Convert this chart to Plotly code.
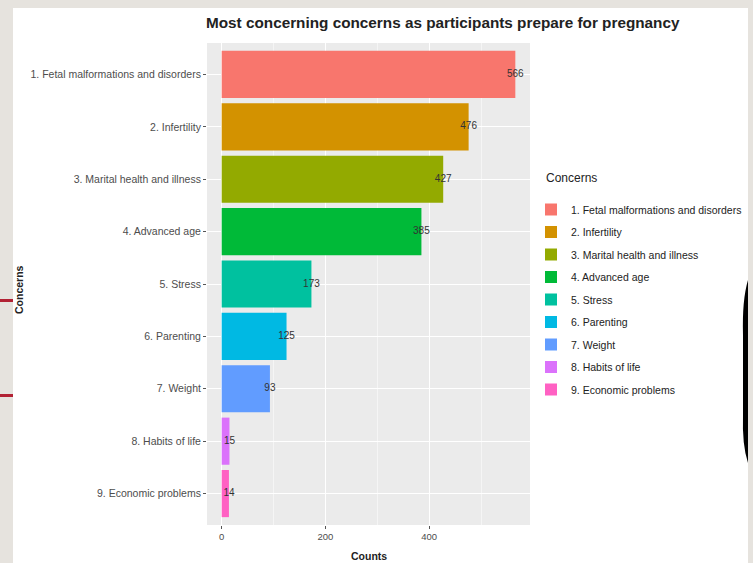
import plotly.graph_objects as go

categories = [
    "1. Fetal malformations and disorders",
    "2. Infertility",
    "3. Marital health and illness",
    "4. Advanced age",
    "5. Stress",
    "6. Parenting",
    "7. Weight",
    "8. Habits of life",
    "9. Economic problems",
]
counts = [566, 476, 427, 385, 173, 125, 93, 15, 14]
colors = ["#F8766D", "#D39200", "#93AA00", "#00BA38", "#00C19F",
          "#00B9E3", "#619CFF", "#DB72FB", "#FF61C3"]
x_ticks = [0, 200, 400]

W, H = 753, 563
L, R, T, B = 207, 530, 43, 525


def px(x):
    return (x - L) / (R - L)


def py(y):
    return (B - y) / (B - T)


fig = go.Figure()
for i, (c, v, col) in enumerate(zip(categories, counts, colors)):
    fig.add_trace(go.Bar(
        x=[v], y=[c], orientation="h", name=c, marker_color=col,
        marker_line_width=0, width=0.9, legendgroup=str(i),
        hoverinfo="x+y",
    ))
fig.add_trace(go.Scatter(
    x=counts, y=categories, mode="text", text=[str(v) for v in counts],
    textposition="middle center", showlegend=False,
    textfont=dict(size=10, color="#333333", family="Liberation Sans"),
))

tf = dict(family="Liberation Sans", size=10.5, color="#4D4D4D")
fig.update_layout(
    width=W, height=H, autosize=False,
    margin=dict(l=L, r=W - R, t=T, b=H - B, autoexpand=False),
    paper_bgcolor="white", plot_bgcolor="#EBEBEB",
    barmode="overlay",
    title=dict(text="<b>Most concerning concerns as participants prepare for pregnancy</b>",
               x=206 / W, xanchor="left", xref="container",
               y=1 - 23 / H, yanchor="middle", yref="container",
               font=dict(family="Liberation Sans", size=15.3, color="#222222")),
    xaxis=dict(range=[-28.3, 594.3], tickvals=x_ticks, ticktext=[str(t) for t in x_ticks],
               showgrid=True, gridcolor="white", gridwidth=1.1, zeroline=False,
               minor=dict(tickvals=[100, 300, 500], showgrid=True, gridcolor="#F5F5F5", gridwidth=0.6),
               ticks="outside", ticklen=3, tickcolor="#555555",
               tickfont=dict(family="Liberation Sans", size=9.5, color="#4D4D4D"),
               showline=False, fixedrange=True, automargin=False),
    yaxis=dict(categoryorder="array", categoryarray=categories[::-1],
               range=[-0.6, 8.6],
               showgrid=True, gridcolor="white", gridwidth=1.1, zeroline=False,
               ticks="outside", ticklen=3, tickcolor="#555555", tickfont=tf,
               showline=False, fixedrange=True, automargin=False),
    legend=dict(x=px(531), xanchor="left", y=py(195), yanchor="top",
                font=dict(family="Liberation Sans", size=10.5, color="#222222"),
                tracegroupgap=3.5, itemwidth=30, bgcolor="rgba(0,0,0,0)"),
    showlegend=True,
)

fig.add_annotation(text="Concerns", x=px(544), y=py(178), xref="paper", yref="paper",
                   showarrow=False, font=dict(family="Liberation Sans", size=12, color="#222222"),
                   xanchor="left", yanchor="middle")
fig.add_annotation(text="<b>Counts</b>", x=0.5, y=py(556), xref="paper", yref="paper",
                   showarrow=False, font=dict(family="Liberation Sans", size=10.5, color="#222222"),
                   xanchor="center", yanchor="middle")
fig.add_annotation(text="<b>Concerns</b>", x=px(19), y=py(290), xref="paper", yref="paper",
                   showarrow=False, textangle=-90,
                   font=dict(family="Liberation Sans", size=10.5, color="#222222"),
                   xanchor="center", yanchor="middle")

# slide background artefacts around the screenshot
fig.add_shape(type="rect", xref="paper", yref="paper", x0=px(0), x1=px(13), y0=py(H), y1=py(0),
              fillcolor="#E6E3DE", line_width=0, layer="below")
fig.add_shape(type="rect", xref="paper", yref="paper", x0=px(0), x1=px(W), y0=py(8), y1=py(0),
              fillcolor="#E6E3DE", line_width=0, layer="below")
fig.add_shape(type="rect", xref="paper", yref="paper", x0=px(748), x1=px(W), y0=py(H), y1=py(0),
              fillcolor="#E6E3DE", line_width=0, layer="below")
for yy in (300, 395):
    fig.add_shape(type="rect", xref="paper", yref="paper", x0=px(0), x1=px(13), y0=py(yy + 2), y1=py(yy - 1),
                  fillcolor="#B22234", line_width=0)
fig.add_shape(type="path", xref="paper", yref="paper",
              path=(f"M {px(748)},{py(280)} Q {px(742)},{py(300)} {px(743)},{py(335)} "
                    f"L {px(743)},{py(415)} Q {px(742)},{py(445)} {px(748)},{py(463)} Z"),
              fillcolor="black", line_width=0)

fig.write_html("out.html")
